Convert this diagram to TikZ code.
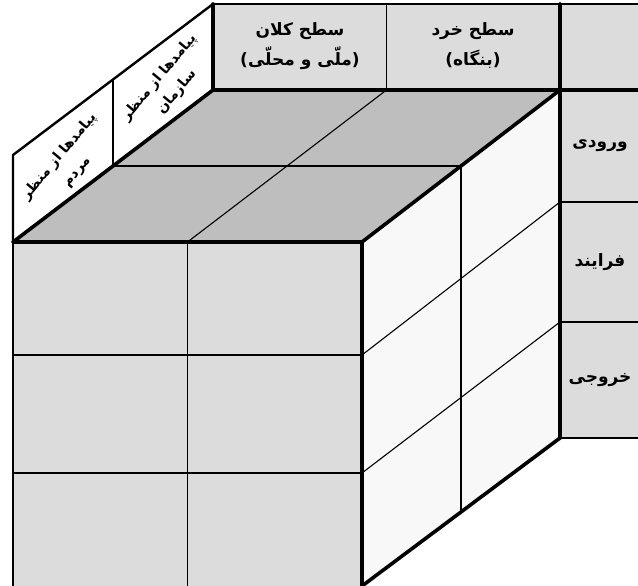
\documentclass[tikz,border=0pt]{standalone}
\usepackage{fontspec}
\TeXXeTstate=1
\newfontfamily\arabicfont[Script=Arabic]{DejaVu Sans}
\definecolor{frontgray}{HTML}{DCDCDC}
\definecolor{topgray}{HTML}{BEBEBE}
\definecolor{sidewhite}{HTML}{F8F8F8}
\definecolor{headgray}{HTML}{DCDCDC}
\tikzset{
  thickedge/.style={line width=3.6pt, line cap=round, line join=round},
  midedge/.style={line width=2.4pt, line cap=round, line join=round},
  thinedge/.style={line width=1.1pt},
  fatxt/.style={font=\arabicfont\bfseries\fontsize{17}{30}\selectfont, align=center, text=black, inner sep=1pt},
  sidetxt/.style={fatxt, font=\arabicfont\bfseries\fontsize{14}{23}\selectfont, rotate=50},
}
\begin{document}
\begin{tikzpicture}[x=1pt,y=-1pt]
\useasboundingbox (0,0) rectangle (638,586);
\clip (0,0) rectangle (638,586);

% corner points of the cube and the frame
\coordinate (FTL) at (13,242);
\coordinate (FTR) at (362,242);
\coordinate (FBL) at (13,592);
\coordinate (FBR) at (362,592);
\coordinate (BTL) at (213,90);
\coordinate (BTR) at (560,90);
\coordinate (BBR) at (560,438);
\coordinate (RBF) at (362,586);
\coordinate (PTL) at (13,155);
\coordinate (PTR) at (213,4);

% header row and right column cells
\fill[headgray] (213,4) rectangle (640,90);
\fill[headgray] (560,90) rectangle (640,438);
\draw[thinedge] (386.5,4) -- (386.5,90);
\draw[thinedge] (560,202) -- (640,202);
\draw[thinedge] (560,322) -- (640,322);
\draw[thinedge] (560,438) -- (640,438);
\draw[midedge] (213,4) -- (640,4);

% left standing panel
\fill[white] (PTL) -- (PTR) -- (BTL) -- (FTL) -- cycle;
\draw[thinedge] (113,80) -- (113,166);
\draw[midedge] (FTL) -- (PTL) -- (PTR);

% top face
\fill[topgray] (FTL) -- (FTR) -- (BTR) -- (BTL) -- cycle;
\draw[thinedge] (113,166) -- (461,166);
\draw[thinedge] (187.5,242) -- (386.5,90);

% front face
\fill[frontgray] (FTL) -- (FTR) -- (FBR) -- (FBL) -- cycle;
\draw[thinedge] (187.5,242) -- (187.5,592);
\draw[thinedge] (13,355) -- (362,355);
\draw[thinedge] (13,473) -- (362,473);

% right face
\fill[sidewhite] (FTR) -- (BTR) -- (BBR) -- (RBF) -- cycle;
\draw[thinedge] (461,166) -- (461,512);
\draw[thinedge] (362,355) -- (560,202);
\draw[thinedge] (362,473) -- (560,322);

% heavy outline edges
\draw[midedge] (FTL) -- (FBL);
\draw[thickedge] (FTL) -- (FTR) -- (BTR);
\draw[thickedge] (FTR) -- (FBR);
\draw[thickedge] (RBF) -- (BBR);
\draw[thickedge] (560,4) -- (BBR);
\draw[thickedge] (BTL) -- (640,90);
\draw[thickedge] (213,4) -- (BTL);
\draw[thickedge] (FTL) -- (BTL);

% labels
\node[fatxt] (macro) at (300,46) {\beginR سطح کلان\endR\\\beginR (ملّی و محلّی)\endR};
\node[fatxt] (micro) at (473,46) {\beginR سطح خرد\endR\\\beginR (بنگاه)\endR};
\node[fatxt] (input) at (600,146) {\beginR ورودی\endR};
\node[fatxt] (process) at (600,262) {\beginR فرایند\endR};
\node[fatxt] (output) at (600,380) {\beginR خروجی\endR};
\node[sidetxt] (people) at (68,164) {\beginR پیامدها از منظر\endR\\\beginR مردم\endR};
\node[sidetxt] (org) at (168,85) {\beginR پیامدها از منظر\endR\\\beginR سازمان\endR};
\end{tikzpicture}
\end{document}
